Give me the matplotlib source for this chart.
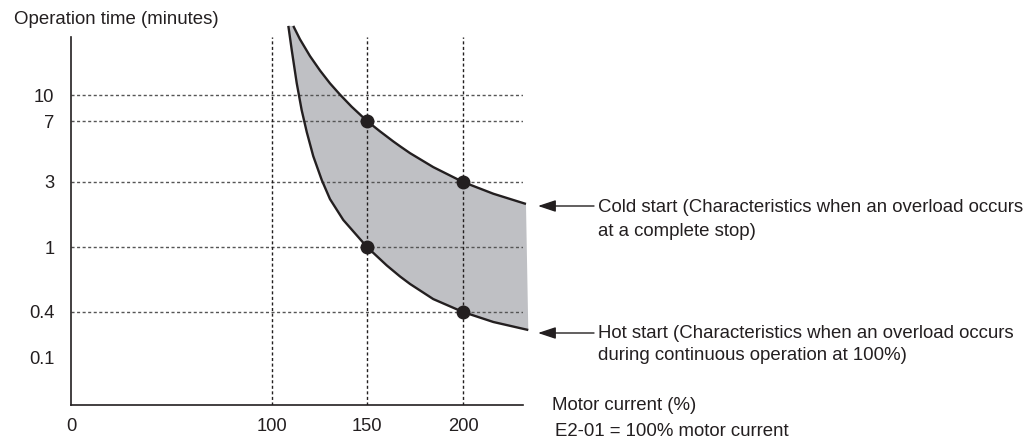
import numpy as np
import matplotlib
matplotlib.use("Agg")
import matplotlib.pyplot as plt

plt.rcParams['font.family'] = ['Liberation Sans', 'DejaVu Sans']

# ---- data ----
x_ticks = [0, 100, 150, 200]
x_tick_labels = ["0", "100", "150", "200"]
y_ticks = [0.1, 0.4, 1, 3, 7, 10]
y_tick_labels = ["0.1", "0.4", "1", "3", "7", "10"]
grid_y = [0.4, 1, 3, 7, 10]
grid_x = [100, 150, 200]

cold_current = [111.2, 114.7, 120.0, 125.3, 130.5, 135.8, 141.9, 150.0, 156.8,
                163.7, 167.2, 172.4, 184.5, 200.0, 215.8, 232.8]
cold_time = [25.8, 21.5, 17.05, 13.98, 11.74, 10.05, 8.52, 7.0, 6.06,
             5.27, 4.93, 4.48, 3.69, 3.0, 2.46, 2.07]

hot_current = [108.6, 110.4, 113.0, 115.6, 118.3, 121.7, 126.2, 130.5, 137.5,
               150.0, 160.3, 167.2, 172.4, 184.5, 200.0, 215.8, 234.0]
hot_time = [25.8, 18.5, 11.79, 8.14, 6.00, 4.30, 3.08, 2.25, 1.58,
            1.0, 0.771, 0.660, 0.594, 0.480, 0.4, 0.296, 0.2325]

marker_current = [150, 200]
cold_marker_time = [7, 3]
hot_marker_time = [1, 0.4]

# ---- layout (schematic, non-uniform axis spacing; in pixels) ----
W, H = 1030, 448
AX_L, AX_R, AX_T, AX_B = 71, 523, 37, 405
x_tick_pos = [0, 201, 296, 392]            # px from left axis edge
y_tick_pos = [47, 93, 158, 223, 284, 310]  # px from bottom axis edge


def make_pw(vals, pos, log=False):
    v = np.log10(np.asarray(vals, float)) if log else np.asarray(vals, float)
    p = np.asarray(pos, float)
    s0 = (p[1] - p[0]) / (v[1] - v[0])
    s1 = (p[-1] - p[-2]) / (v[-1] - v[-2])

    def fwd(x):
        x = np.asarray(x, float)
        t = np.log10(np.clip(x, 1e-9, None)) if log else x
        out = np.interp(t, v, p)
        out = np.where(t < v[0], p[0] + (t - v[0]) * s0, out)
        out = np.where(t > v[-1], p[-1] + (t - v[-1]) * s1, out)
        return out

    def inv(y):
        y = np.asarray(y, float)
        t = np.interp(y, p, v)
        t = np.where(y < p[0], v[0] + (y - p[0]) / s0, t)
        t = np.where(y > p[-1], v[-1] + (y - p[-1]) / s1, t)
        return 10 ** t if log else t

    return fwd, inv


xf, xi = make_pw(x_ticks, x_tick_pos)
yf, yi = make_pw(y_ticks, y_tick_pos, log=True)

fig = plt.figure(figsize=(W / 100, H / 100), dpi=100)
ax = fig.add_axes([AX_L / W, 1 - AX_B / H, (AX_R - AX_L) / W, (AX_B - AX_T) / H])
ax.set_xscale('function', functions=(xf, xi))
ax.set_yscale('function', functions=(yf, yi))
ax.set_xlim(float(xi(0)), float(xi(AX_R - AX_L)))
ax.set_ylim(float(yi(0)), float(yi(AX_B - AX_T)))

ink = '#231f20'
fill_col = '#bfc0c4'
grid_col = '#555555'

# grid
for gy in grid_y:
    ax.axhline(gy, color=grid_col, lw=1.0, ls=(0, (2.2, 1.8)), zorder=1)
for gx in grid_x:
    ax.axvline(gx, color=ink, lw=1.0, ls=(0, (2.2, 1.8)), zorder=1)

# shaded region between curves
poly_x = list(cold_current) + list(hot_current[::-1])
poly_y = list(cold_time) + list(hot_time[::-1])
ax.fill(poly_x, poly_y, color=fill_col, lw=0, zorder=0.5, clip_on=False)

ax.plot(cold_current, cold_time, color=ink, lw=1.7, zorder=3, clip_on=False,
        solid_capstyle='butt', solid_joinstyle='round')
ax.plot(hot_current, hot_time, color=ink, lw=1.7, zorder=3, clip_on=False,
        solid_capstyle='butt', solid_joinstyle='round')
ax.plot(marker_current, cold_marker_time, 'o', color=ink, ms=9, zorder=4, clip_on=False)
ax.plot(marker_current, hot_marker_time, 'o', color=ink, ms=9, zorder=4, clip_on=False)

# axes styling
for s in ['top', 'right']:
    ax.spines[s].set_visible(False)
for s in ['left', 'bottom']:
    ax.spines[s].set_color(ink)
    ax.spines[s].set_linewidth(1.2)
ax.set_xticks(x_ticks)
ax.set_xticklabels(x_tick_labels)
ax.set_yticks(y_ticks)
ax.set_yticklabels(y_tick_labels)
ax.minorticks_off()
ax.tick_params(axis='both', length=0, labelsize=13.2, colors=ink)
ax.tick_params(axis='x', pad=9.5)
ax.tick_params(axis='y', pad=12)
ax.patch.set_alpha(0)

fs = 13.4


def ftext(px, py, s, **kw):
    fig.text(px / W, 1 - py / H, s, fontsize=fs, color=ink, va='center', ha='left', **kw)


ftext(14, 20, "Operation time (minutes)")
ftext(552, 405, "Motor current (%)")
ftext(555, 431, "E2-01 = 100% motor current")

ftext(598, 207, "Cold start (Characteristics when an overload occurs")
ftext(598, 231, "at a complete stop)")
ftext(598, 333, "Hot start (Characteristics when an overload occurs")
ftext(598, 355, "during continuous operation at 100%)")

for yy in (206, 333):
    fig.add_artist(matplotlib.patches.FancyArrowPatch(
        posA=(594, H - yy), posB=(538, H - yy), transform=None,
        arrowstyle='-|>,head_length=0.9,head_width=0.3', mutation_scale=12,
        lw=1.0, color=ink, shrinkA=0, shrinkB=0))

fig.savefig('out.png', dpi=100)
